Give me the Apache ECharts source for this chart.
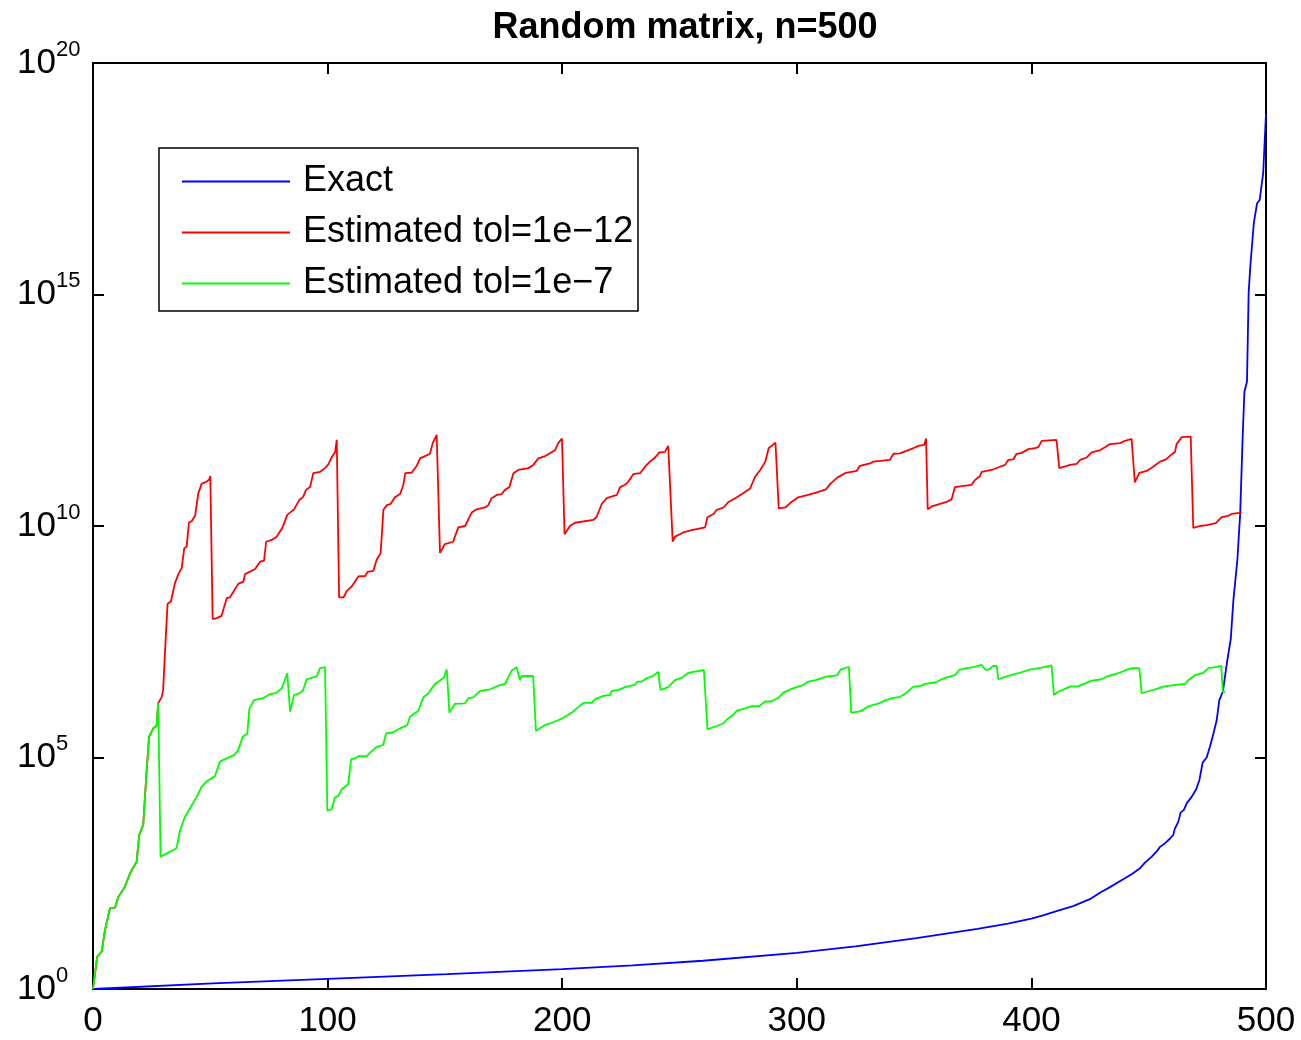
<!DOCTYPE html>
<html>
<head>
<meta charset="utf-8">
<script src="https://cdn.jsdelivr.net/npm/echarts@6/dist/echarts.min.js"></script>
<style>
  html, body { margin: 0; padding: 0; background: #fff; }
  #main { width: 1301px; height: 1040px; }
</style>
</head>
<body>
<div id="main"></div>
<script>
var FONT = "'Liberation Sans', Arial, Helvetica, sans-serif";

// x ticks and y decades (exponents)
var xTicks = [0, 100, 200, 300, 400, 500];
var yExponents = [0, 5, 10, 15, 20];

// [iteration, log10(value)]
var exactLog = [
  [0, 0], [51, 0.12], [100, 0.22], [151, 0.32], [200, 0.43], [230, 0.51], [260, 0.61],
  [300, 0.78], [325, 0.92], [351, 1.1], [377, 1.3], [390, 1.41], [400, 1.52], [405, 1.59],
  [410.7, 1.68], [417.8, 1.79], [424.9, 1.94], [429.2, 2.08], [433.5, 2.2], [438.4, 2.35],
  [442.7, 2.48], [446.3, 2.61], [448.4, 2.73], [451.3, 2.86], [453.4, 2.97], [454.8, 3.07],
  [457, 3.15], [459.1, 3.25], [460.5, 3.33], [461.2, 3.47], [462.6, 3.61], [463.6, 3.81],
  [465, 3.87], [466.2, 4.01], [468.3, 4.15], [470.2, 4.31], [471.6, 4.51], [473, 4.89],
  [474.7, 5.0], [476.1, 5.23], [477.6, 5.52], [479, 5.81], [480.1, 6.24], [481.6, 6.42],
  [483.3, 7.03], [485, 7.57], [486.1, 8.4], [487.8, 9.27], [489, 10.27], [490.1, 12.0],
  [490.8, 12.9], [491.9, 13.12], [492.6, 15.03], [493.3, 15.6], [494.8, 16.54],
  [496.2, 16.97], [497.3, 17.04], [498.8, 17.62], [500, 18.91]
];

// both estimates follow the same path for the first iterations
var startLog = [
  [0, 0], [1.8, 0.7], [3.7, 0.81], [5.1, 1.27], [7.2, 1.74], [9.4, 1.76], [10.8, 1.99],
  [13.6, 2.21], [15.8, 2.5], [18.6, 2.75], [19.7, 3.33], [21.4, 3.54], [22.6, 4.51],
  [23.9, 5.45], [25.7, 5.63], [27.1, 5.68], [27.8, 6.17]
];

var tol12Log = [
  [29.3, 6.31], [29.9, 6.46], [31.1, 7.68], [31.8, 8.32], [33.2, 8.37], [34.9, 8.76],
  [36.4, 8.96], [37.8, 9.09], [38.9, 9.52], [39.9, 9.55], [40.9, 10.07], [42.1, 10.11],
  [43.5, 10.22], [44.9, 10.71], [46.3, 10.91], [48.5, 10.96], [49.6, 11.01], [50, 11.08],
  [51, 7.99], [52.7, 8.01], [54.8, 8.06], [57, 8.44], [58.4, 8.46], [61.9, 8.75], [64.1, 8.8],
  [64.8, 8.96], [69.1, 9.07], [71.2, 9.23], [72.9, 9.25], [73.8, 9.66], [76.2, 9.7],
  [78.3, 9.77], [80.9, 9.98], [82.8, 10.24], [85.7, 10.36], [87.9, 10.56], [89.6, 10.63],
  [90.8, 10.78], [92.5, 10.84], [93.9, 11.14], [96.8, 11.17], [98.9, 11.25], [100.3, 11.33],
  [101.7, 11.48], [103.2, 11.6], [103.9, 11.86],
  [104.9, 8.46], [106.8, 8.46], [108.2, 8.6], [110.2, 8.69], [113.1, 8.91], [116, 8.92],
  [117.1, 9.01], [119.5, 9.03], [120.9, 9.27], [122.6, 9.41], [123.8, 10.35], [125.2, 10.45],
  [126.9, 10.48], [128.7, 10.62], [130.9, 10.69], [132.3, 10.89], [133.1, 11.14],
  [135.8, 11.15], [138, 11.3], [139.4, 11.46], [141.5, 11.51], [143.6, 11.56],
  [144.8, 11.79], [146.5, 11.97],
  [147.9, 9.42], [150, 9.61], [153.5, 9.66], [155.7, 9.97], [158.6, 10.0], [161.4, 10.29],
  [163.5, 10.36], [167.1, 10.4], [168.5, 10.45], [169.9, 10.6], [172.1, 10.67],
  [174.2, 10.69], [175.6, 10.78], [177.5, 10.84], [179.2, 11.14], [181.3, 11.21],
  [185.6, 11.25], [187.7, 11.32], [189.8, 11.46], [192.7, 11.51], [194.8, 11.57],
  [197, 11.64], [198.3, 11.79], [199.9, 11.89],
  [201, 9.82], [203.3, 10.0], [205.4, 10.07], [213.3, 10.13], [214.7, 10.2], [216.9, 10.48],
  [219, 10.6], [223.3, 10.67], [224.7, 10.84], [226.8, 10.89], [228.2, 10.96],
  [230.3, 11.12], [233.2, 11.14], [235.3, 11.28], [237.4, 11.39], [239.6, 11.48],
  [241.4, 11.59], [243.8, 11.6], [245.2, 11.73],
  [247.1, 9.66], [248.1, 9.77], [251.6, 9.86], [255.2, 9.91], [260.9, 9.97], [261.9, 10.19],
  [264.5, 10.26], [265.9, 10.35], [268.8, 10.4], [270.9, 10.52], [273.8, 10.6],
  [276.6, 10.69], [280.1, 10.81], [282.3, 11.07], [284.4, 11.21], [286.6, 11.39],
  [288, 11.68], [290.9, 11.8],
  [292.3, 10.38], [295.1, 10.4], [297.3, 10.5], [300.6, 10.62], [304.8, 10.67],
  [308.2, 10.72], [312.4, 10.79], [314.5, 10.92], [317.4, 11.05], [320.5, 11.14],
  [325.5, 11.19], [326.9, 11.3], [331.2, 11.35], [332.6, 11.39], [339.7, 11.43],
  [341.2, 11.56], [344, 11.57], [349.7, 11.68], [351.8, 11.73], [354.3, 11.75],
  [355.1, 11.89],
  [355.8, 10.36], [357.9, 10.43], [363.9, 10.52], [366, 10.58], [367.4, 10.84],
  [370.3, 10.86], [374.5, 10.89], [375.9, 10.99], [378.1, 11.08], [378.8, 11.17],
  [383, 11.21], [386.6, 11.28], [388.8, 11.32], [390.2, 11.43], [392.3, 11.44],
  [393.7, 11.56], [395.9, 11.58], [398.7, 11.66], [401.6, 11.68], [403, 11.71],
  [404.4, 11.84], [410.7, 11.86],
  [411.9, 11.25], [416.5, 11.32], [419.3, 11.34], [420.8, 11.43], [423.6, 11.48],
  [425.7, 11.59], [429.3, 11.64], [431.4, 11.7], [433.5, 11.77], [437.8, 11.79],
  [439.9, 11.84], [442.7, 11.88],
  [444.1, 10.94], [446, 11.15], [449.1, 11.19], [451.9, 11.28], [454.8, 11.39],
  [457.4, 11.44], [459.4, 11.53], [461.2, 11.6], [461.9, 11.77], [464.1, 11.92],
  [467.9, 11.93],
  [469, 9.96], [471.8, 10.0], [474.7, 10.02], [478.6, 10.06], [481.1, 10.19],
  [483.9, 10.22], [485.3, 10.26], [489.6, 10.29]
];

var tol7Log = [
  [28.8, 2.86], [35.6, 3.04], [37.1, 3.43], [39.2, 3.72], [41.3, 3.9], [44.2, 4.15],
  [46.3, 4.37], [48.4, 4.48], [52, 4.6], [54.1, 4.91], [57, 4.98], [60.1, 5.05],
  [61.9, 5.16], [63.8, 5.45], [65.8, 5.52], [66.6, 6.04], [68.6, 6.24], [72.6, 6.28],
  [75.4, 6.37], [78, 6.39], [80.4, 6.49], [82.8, 6.82], [84, 5.99], [85.7, 6.35],
  [88.2, 6.39], [89.6, 6.46], [91, 6.69], [95.3, 6.75], [96.8, 6.93], [98.9, 6.95],
  [99.9, 3.85], [101.7, 3.88], [103.2, 4.14], [104.6, 4.17], [106, 4.31], [108.8, 4.43],
  [110, 4.96], [111.7, 4.98], [113.1, 5.03], [116.7, 5.03], [118, 5.1], [120.9, 5.23],
  [123.7, 5.27], [124.9, 5.52], [127.7, 5.54], [130.9, 5.63], [134, 5.7], [135.1, 5.88],
  [138.7, 6.01], [140.8, 6.3], [143, 6.39], [145.8, 6.59], [148, 6.67], [149.6, 6.73],
  [150.8, 6.9],
  [151.9, 5.97], [154.3, 6.16], [158.6, 6.17], [160, 6.28], [162.1, 6.3], [165, 6.44],
  [169.2, 6.47], [172.1, 6.54], [175.6, 6.59], [178.5, 6.88], [180.6, 6.95], [182, 6.67],
  [182.7, 6.76], [187.6, 6.76],
  [188.8, 5.58], [192.7, 5.7], [195.5, 5.75], [199, 5.82], [201.9, 5.9], [204, 5.97],
  [209, 6.18], [212.6, 6.18], [214, 6.26], [217.6, 6.33], [220.4, 6.35], [221.1, 6.44],
  [223.9, 6.46], [227.5, 6.53], [231, 6.57], [232, 6.64], [234, 6.64], [235.9, 6.71],
  [238.7, 6.76], [240.9, 6.85],
  [241.9, 6.46], [245.2, 6.52], [248.1, 6.67], [250.9, 6.72], [253.8, 6.83], [255.9, 6.85],
  [260.4, 6.89],
  [261.9, 5.61], [265.9, 5.68], [268.8, 5.74], [270.2, 5.82], [272.4, 5.9], [274.5, 6.01],
  [278, 6.06], [280.9, 6.11], [284, 6.11], [286.5, 6.21], [289, 6.21], [292.1, 6.29],
  [294.3, 6.4], [297.1, 6.47], [300, 6.52], [302.8, 6.57], [305, 6.64], [308, 6.67],
  [310.2, 6.71], [313, 6.75], [315.2, 6.76], [317.3, 6.78], [318.7, 6.9], [322.2, 6.96],
  [323.2, 5.97], [326.5, 5.99], [328.6, 6.04], [330.8, 6.11], [335, 6.17], [337.9, 6.24],
  [340.7, 6.28], [344, 6.31], [346.5, 6.39], [349.7, 6.53], [352.5, 6.54], [354.7, 6.59],
  [359, 6.62], [361.8, 6.69], [363.9, 6.73], [367.4, 6.78], [369.3, 6.89], [372.4, 6.93],
  [375.3, 6.95], [378.9, 7.0], [380.3, 6.9], [382, 6.9], [383.7, 6.98], [385.2, 6.98],
  [385.9, 6.69], [389.4, 6.75], [394.4, 6.82], [399.4, 6.9], [404.4, 6.94], [408.6, 6.99],
  [409.6, 6.35], [411.4, 6.42], [416.5, 6.53], [420, 6.54], [425.7, 6.66], [430, 6.69],
  [432.1, 6.75], [437.1, 6.82], [439.9, 6.88], [442.7, 6.93], [446, 6.93],
  [447, 6.39], [449.1, 6.42], [452.7, 6.47], [456.2, 6.53], [461.2, 6.57], [465.5, 6.59],
  [466.9, 6.67], [469.8, 6.78], [473.3, 6.83], [475.5, 6.93], [478.3, 6.95], [480.9, 6.98],
  [481.6, 6.42], [482.6, 6.42]
];

function toValues(pts) {
  return pts.map(function (p) { return [p[0], Math.pow(10, p[1])]; });
}

var myChart = echarts.init(document.getElementById("main"));

var axisLineStyle = { color: "#000", width: 2 };
var tickStyle = { inside: true, length: 11, lineStyle: { color: "#000", width: 2 } };

function xAxisOpt(pos, labels) {
  return {
    type: "value", position: pos, min: xTicks[0], max: xTicks[xTicks.length - 1], interval: 100,
    axisLine: { show: true, onZero: false, lineStyle: axisLineStyle },
    axisTick: tickStyle, splitLine: { show: false },
    axisLabel: { show: labels, fontSize: 35, fontFamily: FONT, color: "#000", margin: 15 }
  };
}

function yAxisOpt(pos, labels) {
  return {
    type: "log", logBase: 10, position: pos,
    min: Math.pow(10, yExponents[0]), max: Math.pow(10, yExponents[yExponents.length - 1]),
    interval: 5,
    axisLine: { show: true, onZero: false, lineStyle: axisLineStyle },
    axisTick: tickStyle, minorTick: { show: false }, splitLine: { show: false },
    axisLabel: {
      show: labels, align: "left", margin: 76,
      formatter: function (v) {
        return "{b|10}{s|" + Math.round(Math.log10(v)) + "}";
      },
      rich: {
        b: { fontSize: 35, fontFamily: FONT, color: "#000", verticalAlign: "bottom", lineHeight: 35 },
        s: { fontSize: 22, fontFamily: FONT, color: "#000", verticalAlign: "bottom", lineHeight: 22, padding: [0, 0, 20, 0] }
      }
    }
  };
}

option = {
  animation: false,
  backgroundColor: "#fff",
  title: {
    text: "Random matrix, n=500",
    left: 680, top: 5, textAlign: "center",
    textStyle: { fontSize: 36, fontWeight: "bold", fontFamily: FONT, color: "#000" }
  },
  grid: { left: 93, right: 35, top: 63, bottom: 51 },
  graphic: [{
    type: "rect", z: 3,
    shape: { x: 159, y: 148, width: 479, height: 163 },
    style: { fill: "#fff", stroke: "#000", lineWidth: 1.5 }
  }],
  legend: {
    orient: "vertical", left: 182, top: 163, padding: 0, z: 5,
    itemWidth: 108, itemHeight: 2, itemGap: 14, icon: "rect",
    textStyle: { fontSize: 36, fontFamily: FONT, color: "#000", lineHeight: 35, padding: [2, 0, 0, 8] },
    data: ["Exact", "Estimated tol=1e\u221212", "Estimated tol=1e\u22127"]
  },
  xAxis: [xAxisOpt("bottom", true), xAxisOpt("top", false)],
  yAxis: [yAxisOpt("left", true), yAxisOpt("right", false)],
  series: [
    { name: "Exact", type: "line", data: toValues(exactLog), showSymbol: false,
      lineStyle: { color: "#0000ff", width: 1.8 }, itemStyle: { color: "#0000ff" } },
    { name: "Estimated tol=1e\u221212", type: "line", data: toValues(startLog.concat(tol12Log)), showSymbol: false,
      lineStyle: { color: "#ff0000", width: 1.8 }, itemStyle: { color: "#ff0000" } },
    { name: "Estimated tol=1e\u22127", type: "line", data: toValues(startLog.concat(tol7Log)), showSymbol: false,
      lineStyle: { color: "#00ff00", width: 1.8 }, itemStyle: { color: "#00ff00" } }
  ]
};

myChart.setOption(option);
</script>
</body>
</html>
